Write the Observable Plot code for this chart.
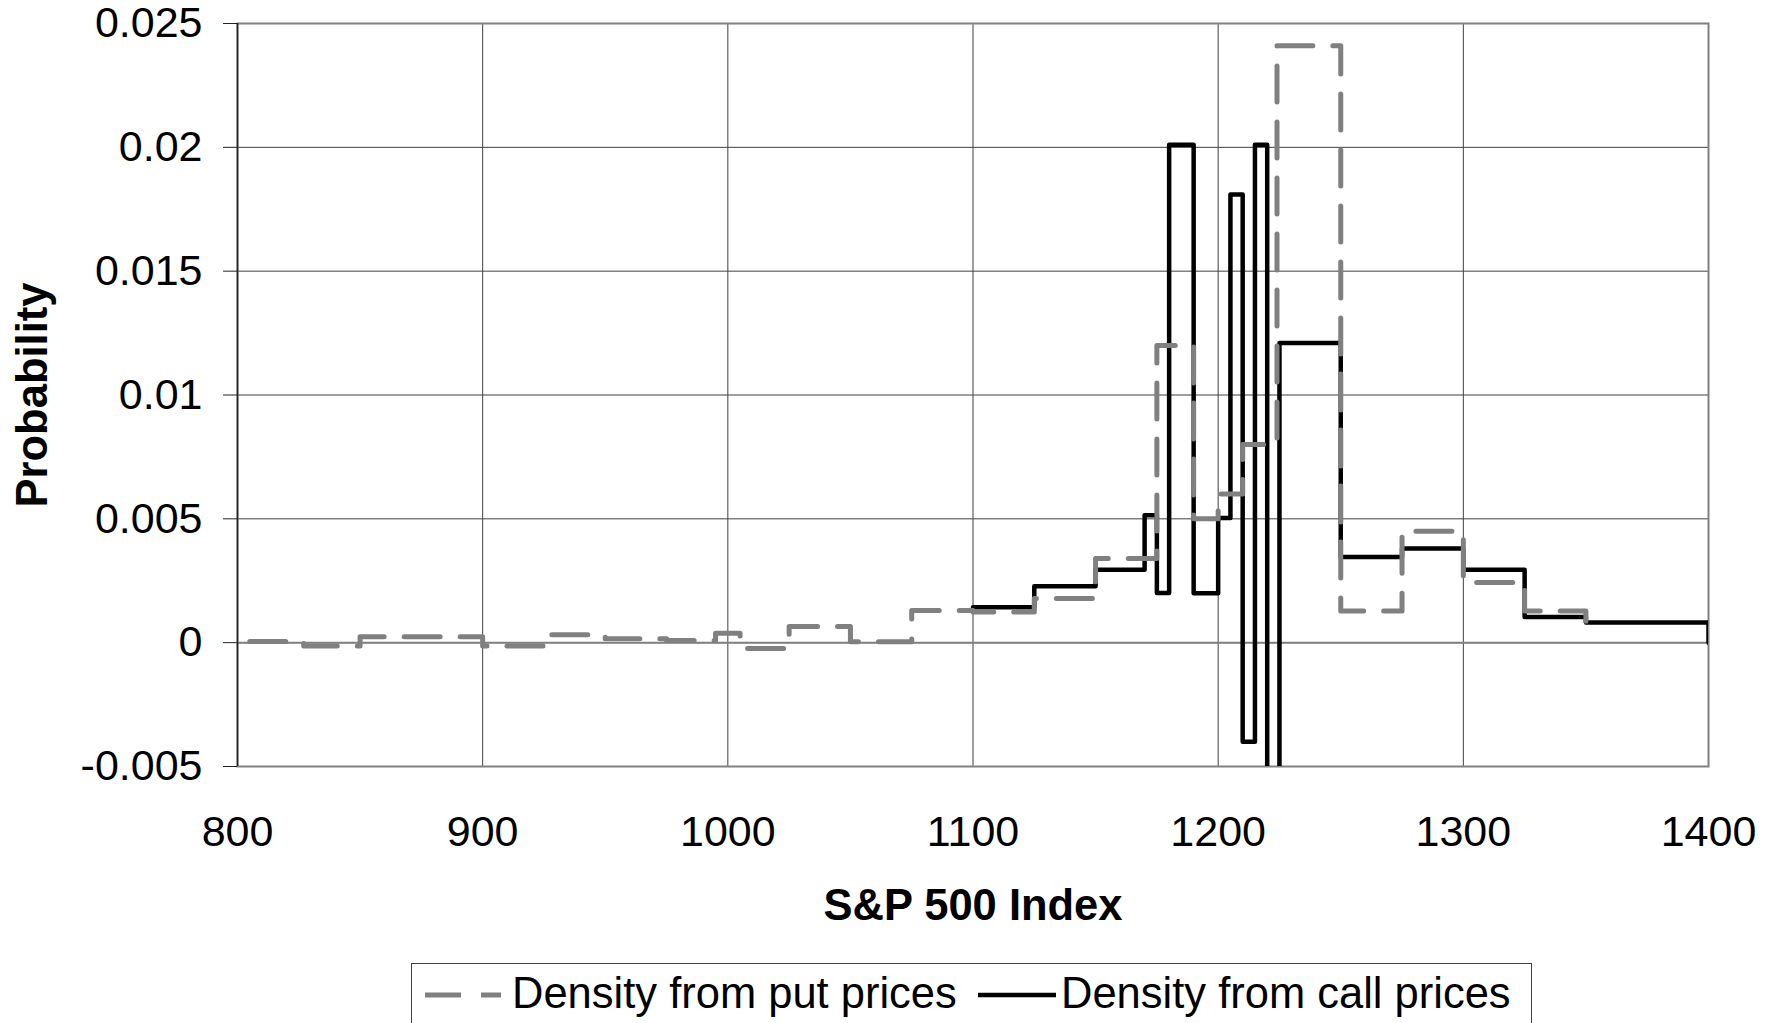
<!DOCTYPE html>
<html>
<head>
<meta charset="utf-8">
<script src="https://cdn.jsdelivr.net/npm/d3@7"></script>
<script src="https://cdn.jsdelivr.net/npm/@observablehq/plot@0.6"></script>
<style>
  html, body { margin: 0; padding: 0; background: #fff; }
  body { width: 1780px; height: 1023px; overflow: hidden; position: relative; font-family: "Liberation Sans", Arial, sans-serif; }
  #chart svg { display: block; overflow: visible; }
  #legend { position: absolute; left: 411px; top: 963px; width: 1121px; height: 80px; border: 1.5px solid #404040; box-sizing: border-box; background: #fff; }
  #legend .txt { position: absolute; top: 0; font-size: 43.5px; line-height: 1; color: #000; white-space: nowrap; }
</style>
</head>
<body>
<div id="chart"></div>
<div id="legend">
  <svg width="1121" height="80" style="position:absolute;left:0;top:0">
    <line x1="13" x2="89" y1="31" y2="31" stroke="#808080" stroke-width="5" stroke-dasharray="36,20"></line>
    <line x1="566" x2="644" y1="31" y2="31" stroke="#000" stroke-width="4.5"></line>
  </svg>
  <span class="txt" style="left:100px; top:8px">Density from put prices</span>
  <span class="txt" style="left:649px; top:8px">Density from call prices</span>
</div>
<script>
// S&P 500 index level (x) and probability (y); step functions
const putX = [805, 827, 850, 900, 925, 950, 975, 995, 1005, 1025, 1050, 1075, 1100, 1125, 1150, 1175, 1190, 1200, 1210, 1224, 1250, 1275, 1300, 1325, 1350];
const putY = [0.00005, -0.00013, 0.00024, -0.00013, 0.00032, 0.00016, 0.00009, 0.00038, -0.00024, 0.00065, 0.00004, 0.0013, 0.00124, 0.00178, 0.0034, 0.012, 0.005, 0.006, 0.008, 0.0241, 0.00128, 0.0045, 0.00243, 0.00128, 0.0005];
const callX = [1100, 1125, 1150, 1170, 1175, 1180, 1190, 1200, 1205, 1210, 1215, 1220, 1225, 1250, 1275, 1300, 1325, 1350, 1400];
const callY = [0.00143, 0.00228, 0.00294, 0.00514, 0.00201, 0.0201, 0.002, 0.00503, 0.0181, -0.004, 0.0201, -0.0065, 0.0121, 0.00346, 0.0038, 0.00294, 0.00104, 0.00081, 0];
const xTicks = [800, 900, 1000, 1100, 1200, 1300, 1400];
const yTicks = [-0.005, 0, 0.005, 0.01, 0.015, 0.02, 0.025];
const xTitle = "S&P 500 Index";
const yTitle = "Probability";

const put = putX.map((x, i) => ({x, y: putY[i]}));
const call = callX.map((x, i) => ({x, y: callY[i]}));

const W = 1780, H = 950;
const fmtY = d => String(+d.toFixed(3));

const chart = Plot.plot({
  width: W,
  height: H,
  marginLeft: 237,
  marginRight: 72,
  marginTop: 23,
  marginBottom: H - 766,
  style: {fontFamily: "'Liberation Sans', Arial, sans-serif", background: "#fff", color: "#000", overflow: "visible"},
  x: {domain: [800, 1400]},
  y: {domain: [-0.005, 0.025]},
  marks: [
    Plot.gridX(xTicks, {stroke: "#404040", strokeOpacity: 1, strokeWidth: 1}),
    Plot.gridY(yTicks, {stroke: "#404040", strokeOpacity: 1, strokeWidth: 1}),
    Plot.ruleY([0], {stroke: "#808080", strokeWidth: 2}),
    Plot.frame({stroke: "#808080", strokeWidth: 2}),
    Plot.ruleX([800], {stroke: "#222", strokeWidth: 1.5}),
    Plot.axisX({ticks: xTicks, tickSize: 0, tickPadding: 49, fontSize: 43, label: null, tickFormat: d => String(d)}),
    Plot.axisY({ticks: yTicks, tickSize: 14, tickPadding: 21, fontSize: 43, label: null, tickFormat: fmtY, stroke: "#222"}),
    Plot.line(call, {x: "x", y: "y", curve: "step-after", stroke: "#000", strokeWidth: 4.5, strokeLinejoin: "round", clip: true}),
    Plot.line(put, {x: "x", y: "y", curve: "step-after", stroke: "#808080", strokeWidth: 5, strokeDasharray: "36,20", clip: true}),
    Plot.text([xTitle], {frameAnchor: "bottom", textAnchor: "middle", lineAnchor: "middle", dy: 139.4, fontSize: 43.5, fontWeight: "bold", fill: "#000"}),
    Plot.text([yTitle], {frameAnchor: "left", textAnchor: "middle", lineAnchor: "middle", dx: -204.2, rotate: -90, fontSize: 43.5, fontWeight: "bold", fill: "#000"})
  ]
});
document.getElementById("chart").appendChild(chart);
</script>
</body>
</html>
